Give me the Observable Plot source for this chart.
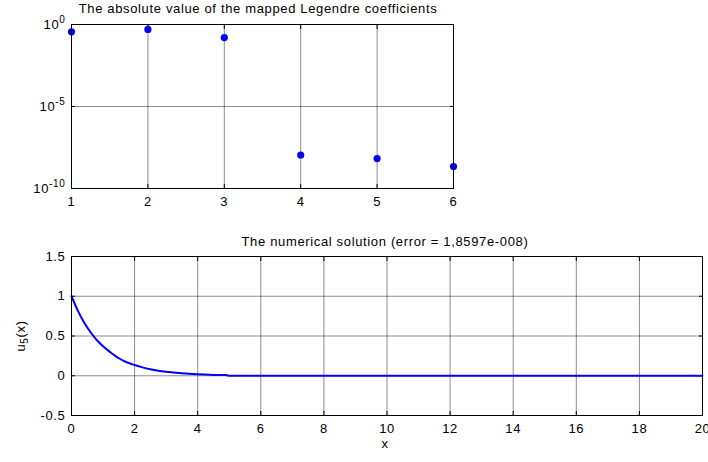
<!DOCTYPE html>
<html><head><meta charset="utf-8">
<script src="https://cdn.jsdelivr.net/npm/d3@7"></script>
<script src="https://cdn.jsdelivr.net/npm/@observablehq/plot@0.6"></script>
<style>
body{margin:0;background:#fff;}
#wrap{position:relative;width:708px;height:462px;overflow:hidden;font-family:"Liberation Sans",Arial,sans-serif;color:#000;}
#wrap svg{position:absolute;overflow:visible;}
#wrap svg text{letter-spacing:0.65px;}
.lbl{position:absolute;font-size:13px;letter-spacing:0.65px;white-space:nowrap;line-height:1;}
</style></head><body><div id="wrap"></div>
<script>
// ---- data ----
const coefIndex = [1, 2, 3, 4, 5, 6];
const coefAbs = [0.36, 0.5, 0.16, 1.1e-8, 6.7e-9, 2.2e-9];
const solX = [0, 0.2, 0.4, 0.6, 0.8, 1.0, 1.25, 1.5, 1.75, 2.0, 2.25, 2.5, 2.75, 3.0, 3.5, 4.0, 4.5, 4.9, 5.0, 6, 8, 10, 12, 14, 16, 18, 20];
const solU = [1.0, 0.82, 0.67, 0.55, 0.45, 0.37, 0.29, 0.22, 0.17, 0.135, 0.105, 0.082, 0.064, 0.05, 0.03, 0.018, 0.011, 0.008, 0.0, 0, 0, 0, 0, 0, 0, 0, 0];
const xTicksTop = [1, 2, 3, 4, 5, 6];
const yTicksTop = [1e-10, 1e-5, 1];
const yTickLabelsTop = ["10^-10", "10^-5", "10^0"];
const xTicksBottom = [0, 2, 4, 6, 8, 10, 12, 14, 16, 18, 20];
const yTicksBottom = [-0.5, 0, 0.5, 1, 1.5];
const titleTop = "The absolute value of the mapped Legendre coefficients";
const titleBottom = "The numerical solution (error = 1,8597e-008)";
const xLabelBottom = "x";

const FONT = '"Liberation Sans", Arial, sans-serif';
const gridStyle = {stroke: "#000", strokeOpacity: 0.45, strokeWidth: 1};
const blue = "#0000ff";
const wrap = document.getElementById("wrap");

function place(el, left, top) { el.style.left = left + "px"; el.style.top = top + "px"; wrap.appendChild(el); }

// ---- top plot ----
const coefData = coefIndex.map((k, i) => ({k, v: coefAbs[i]}));
const topPlot = Plot.plot({
  width: 470, height: 210,
  marginLeft: 71, marginRight: 17, marginTop: 24, marginBottom: 22,
  style: {fontFamily: FONT, fontSize: "13px", background: "transparent", color: "#000"},
  x: {domain: [1, 6]},
  y: {type: "log", domain: [1e-10, 1]},
  marks: [
    Plot.gridX(xTicksTop, gridStyle),
    Plot.gridY(yTicksTop, gridStyle),
    Plot.axisX(xTicksTop, {anchor: "bottom", tickSize: -4, tickPadding: 12, label: null}),
    Plot.axisX(xTicksTop, {anchor: "top", tickSize: -4, tickFormat: () => null, label: null}),
    Plot.axisY(yTicksTop, {anchor: "left", tickSize: -4, tickPadding: 10, label: null,
      tickFormat: d => yTickLabelsTop[yTicksTop.indexOf(d)]}),
    Plot.axisY(yTicksTop, {anchor: "right", tickSize: -4, tickFormat: () => null, label: null}),
    Plot.dot(coefData, {x: "k", y: "v", r: 3.6, fill: blue, stroke: null}),
    Plot.frame({stroke: "#000", strokeWidth: 1})
  ]
});
// superscripts for the log tick labels
d3.select(topPlot).selectAll('g[aria-label="y-axis tick label"] text').each(function() {
  const t = this.textContent;
  if (t.includes("^")) {
    const [base, exp] = t.split("^");
    const sel = d3.select(this).text(null);
    sel.append("tspan").text(base);
    sel.append("tspan").attr("dy", "-0.6em").attr("font-size", "10px").text(exp);
  }
});
place(topPlot, 0, 0);

// ---- bottom plot ----
const solData = solX.map((x, i) => ({x, u: solU[i]}));
const botPlot = Plot.plot({
  width: 708, height: 232,
  marginLeft: 71, marginRight: 6, marginTop: 26, marginBottom: 47,
  style: {fontFamily: FONT, fontSize: "13px", background: "transparent", color: "#000"},
  x: {domain: [0, 20]},
  y: {domain: [-0.5, 1.5]},
  marks: [
    Plot.gridX(xTicksBottom, gridStyle),
    Plot.gridY(yTicksBottom, gridStyle),
    Plot.axisX(xTicksBottom, {anchor: "bottom", tickSize: -4, tickPadding: 12, label: null}),
    Plot.axisX(xTicksBottom, {anchor: "top", tickSize: -4, tickFormat: () => null, label: null}),
    Plot.axisY(yTicksBottom, {anchor: "left", tickSize: -4, tickPadding: 10, label: null, tickFormat: d => String(d)}),
    Plot.axisY(yTicksBottom, {anchor: "right", tickSize: -4, tickFormat: () => null, label: null}),
    Plot.line(solData, {x: "x", y: "u", stroke: blue, strokeWidth: 2, curve: "monotone-x"}),
    Plot.frame({stroke: "#000", strokeWidth: 1})
  ]
});
place(botPlot, 0, 230);

// ---- text labels ----
function label(html, cx, cy, rotate) {
  const d = document.createElement("div");
  d.className = "lbl";
  d.innerHTML = html;
  d.style.transform = "translate(-50%,-50%)" + (rotate ? " rotate(-90deg)" : "");
  place(d, cx, cy);
  return d;
}
label(titleTop, 258, 8);
label(titleBottom, 385, 241);
label(xLabelBottom, 385, 443);
label('u<sub style="font-size:10px;vertical-align:-3px">5</sub>(x)', 22, 336, true);
</script></body></html>
